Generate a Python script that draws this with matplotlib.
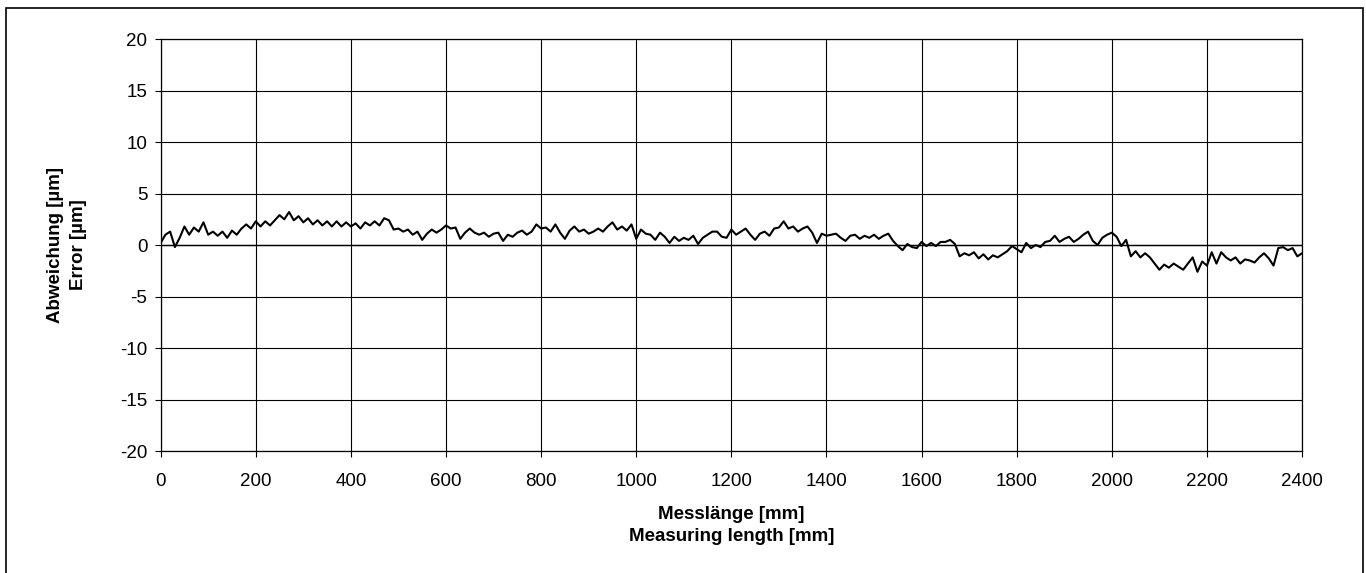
import matplotlib.pyplot as plt
from matplotlib.patches import Rectangle
import numpy as np

# Messposition [mm], Schritt 10 mm
position_mm = np.arange(0, 2410, 10)

# Abweichung [µm]
abweichung_um = [
    0.2, 1.0, 1.3, -0.2, 0.7, 1.8, 1.0, 1.7, 1.3, 2.2,
    1.0, 1.3, 0.9, 1.3, 0.7, 1.4, 1.0, 1.6, 2.0, 1.6,
    2.3, 1.8, 2.3, 1.9, 2.4, 2.9, 2.5, 3.2, 2.4, 2.8,
    2.2, 2.6, 2.0, 2.4, 1.9, 2.3, 1.8, 2.3, 1.8, 2.2,
    1.8, 2.1, 1.6, 2.2, 1.9, 2.3, 1.9, 2.6, 2.4, 1.5,
    1.6, 1.3, 1.5, 1.0, 1.3, 0.5, 1.1, 1.5, 1.2, 1.5,
    1.9, 1.6, 1.7, 0.6, 1.2, 1.6, 1.2, 1.0, 1.2, 0.8,
    1.1, 1.2, 0.4, 1.0, 0.8, 1.2, 1.4, 1.0, 1.3, 2.0,
    1.6, 1.7, 1.3, 2.0, 1.2, 0.6, 1.4, 1.8, 1.3, 1.5,
    1.1, 1.3, 1.6, 1.3, 1.8, 2.2, 1.5, 1.8, 1.4, 2.0,
    0.6, 1.5, 1.1, 1.0, 0.5, 1.2, 0.8, 0.2, 0.8, 0.4,
    0.7, 0.5, 0.9, 0.1, 0.7, 1.0, 1.3, 1.3, 0.8, 0.7,
    1.5, 1.0, 1.3, 1.6, 1.0, 0.5, 1.1, 1.3, 0.9, 1.6,
    1.7, 2.3, 1.6, 1.8, 1.3, 1.6, 1.8, 1.2, 0.2, 1.1,
    0.9, 1.0, 1.1, 0.7, 0.4, 0.9, 1.0, 0.6, 0.9, 0.7,
    1.0, 0.6, 0.9, 1.1, 0.4, -0.1, -0.5, 0.1, -0.2, -0.3,
    0.3, -0.1, 0.2, -0.1, 0.3, 0.3, 0.5, 0.1, -1.1, -0.8,
    -1.0, -0.7, -1.3, -0.9, -1.4, -1.0, -1.2, -0.9, -0.6, -0.1,
    -0.4, -0.7, 0.2, -0.3, 0.0, -0.2, 0.3, 0.4, 0.9, 0.3,
    0.6, 0.8, 0.3, 0.6, 1.0, 1.3, 0.4, 0.0, 0.7, 1.0,
    1.2, 0.8, -0.1, 0.5, -1.1, -0.6, -1.2, -0.8, -1.2, -1.8,
    -2.4, -1.9, -2.2, -1.8, -2.1, -2.4, -1.8, -1.2, -2.6, -1.6,
    -2.0, -0.7, -1.8, -0.7, -1.2, -1.5, -1.2, -1.8, -1.4, -1.5,
    -1.7, -1.2, -0.8, -1.3, -2.0, -0.3, -0.2, -0.5, -0.3, -1.1,
    -0.8,
]

x_ticks = list(range(0, 2401, 200))
y_ticks = list(range(-20, 21, 5))

plt.rcParams['font.family'] = ['Liberation Sans', 'DejaVu Sans']
plt.rcParams['axes.unicode_minus'] = False

fig = plt.figure(figsize=(13.66, 5.73), dpi=100)
ax = fig.add_axes([0.1176, 0.2129, 0.8356, 0.7190])

ax.plot(position_mm, abweichung_um, color='black', linewidth=1.5, zorder=3)

ax.set_xlim(0, 2400)
ax.set_ylim(-20, 20)
ax.set_xticks(x_ticks)
ax.set_yticks(y_ticks)
ax.grid(True, color='black', linewidth=0.8)
ax.axhline(0, color='black', linewidth=1.0, zorder=2)
for s in ax.spines.values():
    s.set_linewidth(0.9)

ax.tick_params(axis='both', direction='out', length=4, width=0.8, labelsize=13.5)
ax.tick_params(axis='x', pad=12)
ax.tick_params(axis='y', pad=5.5)

ax.set_xlabel('Messlänge [mm]\nMeasuring length [mm]', fontsize=13.5,
              fontweight='bold', labelpad=11, linespacing=1.45)
ax.set_ylabel('Abweichung [µm]\nError [µm]', fontsize=13.5,
              fontweight='bold', labelpad=24, linespacing=1.45)

# Rahmen um das ganze Bild
fig.add_artist(Rectangle((6 / 1366, -0.05), 1357 / 1366, 1.05 - 8 / 573,
                         transform=fig.transFigure, fill=False,
                         edgecolor='black', linewidth=1.2))

fig.savefig('out.png', dpi=100)
